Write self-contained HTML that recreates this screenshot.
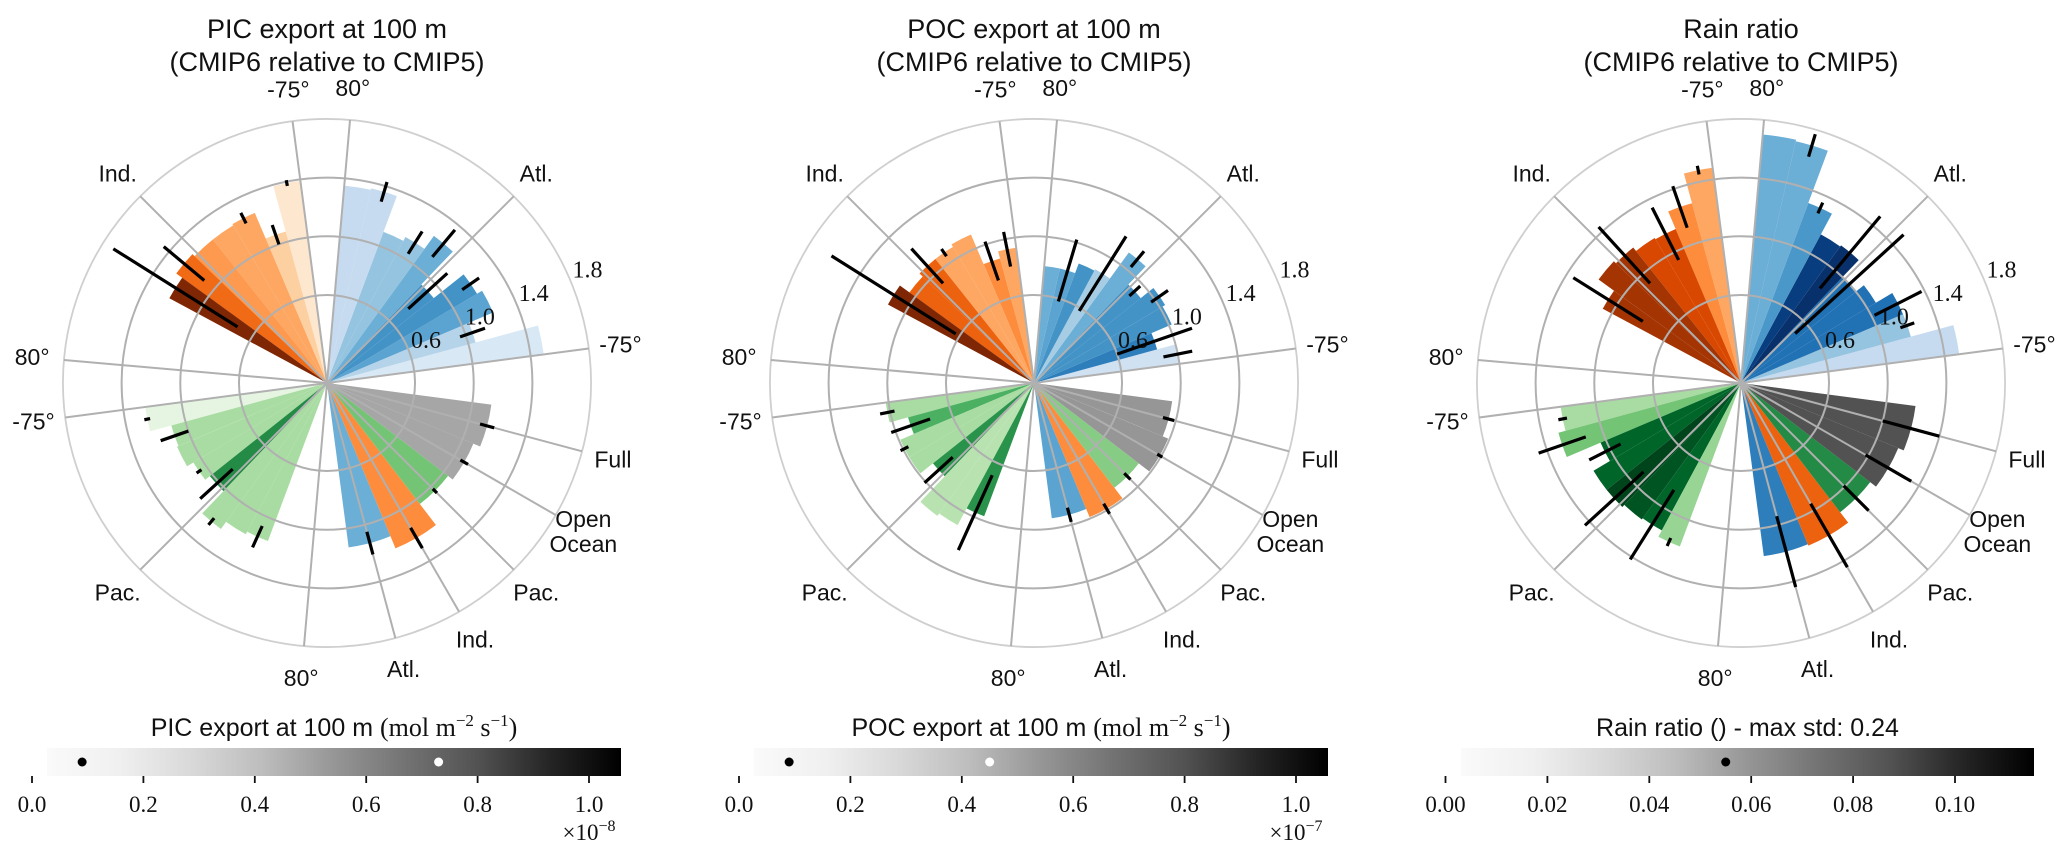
<!DOCTYPE html>
<html><head><meta charset="utf-8"><title>CMIP6 vs CMIP5 polar bar charts</title>
<style>
html,body{margin:0;padding:0;background:#fff;}
svg{display:block;}
.t{font-family:"Liberation Sans","DejaVu Sans",sans-serif;fill:#111;}
.s{font-family:"Liberation Serif","DejaVu Serif",serif;fill:#111;}
</style></head>
<body>
<svg id="fig" width="2067" height="852" viewBox="0 0 2067 852" xmlns="http://www.w3.org/2000/svg">
  <g>
    <text class="t" x="327" y="38" font-size="27" text-anchor="middle">PIC export at 100 m</text>
    <text class="t" x="327" y="71" font-size="27" text-anchor="middle">(CMIP6 relative to CMIP5)</text>
  </g>
  <g>
    <text class="t" x="1034" y="38" font-size="27" text-anchor="middle">POC export at 100 m</text>
    <text class="t" x="1034" y="71" font-size="27" text-anchor="middle">(CMIP6 relative to CMIP5)</text>
  </g>
  <g>
    <text class="t" x="1741" y="38" font-size="27" text-anchor="middle">Rain ratio</text>
    <text class="t" x="1741" y="71" font-size="27" text-anchor="middle">(CMIP6 relative to CMIP5)</text>
  </g>
  <g id="plots"></g>
  <g id="cbars"></g>
</svg>
<script>
// ---- data ----
const basinNames = ["Atl.", "Ind.", "Pac.", "Open Ocean", "Full"];
const radialTicks = [0.6, 1.0, 1.4, 1.8];
// PIC
const picAtl = [1.49,1.05,1.23,1.19,0.93,1.24,1.13,1.10,1.36,1.35];
const picAtlErr = [0,0.09,0,0.07,0.18,0.12,0.09,0,0.07,0];
const picAtlShade = [0.15,0.3,0.55,0.62,0.62,0.5,0.4,0.4,0.25,0.25];
const picInd = [1.39,1.07,1.26,1.25,1.25,1.27,1.22,null,null,null];
const picIndErr = [0.02,0.07,0.04,0,0,0.18,0.5,0,0,0];
const picIndShade = [0.12,0.25,0.4,0.4,0.45,0.62,1.0,0,0,0];
const picPac = [1.25,1.10,1.11,1.06,1.02,1.23,1.17,1.15,null,null];
const picPacErr = [0.02,0.1,0,0.02,0.15,0.03,0,0.08,0,0];
const picPacShade = [0.12,0.35,0.35,0.35,0.75,0.35,0.35,0.35,0,0];
const picBasin = [1.13,1.22,1.04,1.08,1.13];
const picBasinErr = [0.08,0.08,0.02,0.03,0.05];
const picBasinShade = [0.5,0.5,0.5,0.45,0.45];
// POC
const pocAtl = [1.00,0.87,1.02,1.04,0.93,1.10,0.88,0.87,0.80,0.80];
const pocAtlErr = [0.1,0.27,0,0.07,0.05,0.07,0.3,0,0.22,0];
const pocAtlShade = [0.2,0.7,0.62,0.62,0.62,0.5,0.35,0.62,0.55,0.5];
const pocInd = [0.93,0.88,1.10,1.08,1.08,1.05,1.13,null,null,null];
const pocIndErr = [0.12,0.14,0,0.03,0.16,0,0.5,0,0,0];
const pocIndShade = [0.4,0.5,0.4,0.4,0.65,0.65,1.0,0,0,0];
const pocPac = [1.02,0.89,0.99,0.99,0.88,1.12,1.10,0.97,null,null];
const pocPacErr = [0.05,0.14,0.03,0,0.13,0,0,0.28,0,0];
const pocPacShade = [0.35,0.6,0.35,0.35,0.72,0.3,0.3,0.72,0,0];
const pocBasin = [0.93,0.99,0.90,0.99,0.95];
const pocBasinErr = [0.05,0.04,0.03,0.02,0.04];
const pocBasinShade = [0.55,0.5,0.45,0.5,0.5];
// Rain ratio
const rrAtl = [1.50,1.20,1.20,1.07,1.00,1.16,1.15,1.31,1.69,1.70];
const rrAtlErr = [0,0.05,0.18,0,0.5,0.32,0,0.04,0.08,0];
const rrAtlShade = [0.25,0.4,0.75,0.75,0.75,1.0,0.95,0.6,0.5,0.5];
const rrInd = [1.48,1.27,1.14,1.15,1.18,1.20,1.07,null,null,null];
const rrIndErr = [0.03,0.15,0.2,0,0.26,0,0.28,0,0,0];
const rrIndShade = [0.4,0.5,0.75,0.75,0.88,0.88,0.88,0,0,0];
const rrPac = [1.24,1.29,1.04,1.17,1.17,1.15,1.14,1.19,null,null];
const rrPacErr = [0.03,0.17,0.12,0,0.27,0,0.28,0.03,0,0];
const rrPacShade = [0.35,0.5,0.9,0.9,1.0,0.95,0.9,0.4,0,0];
const rrBasin = [1.19,1.20,1.11,1.16,1.20];
const rrBasinErr = [0.25,0.25,0.12,0.18,0.2];
const rrBasinShade = [0.7,0.65,0.75,0.75,0.75];
// colorbars
const cb1Ticks = ["0.0","0.2","0.4","0.6","0.8","1.0"];
const cb1TickVals = [0,0.2,0.4,0.6,0.8,1.0];
const cb1Dots = [0.09,0.73];
const cb2Dots = [0.09,0.45];
const cb3Ticks = ["0.00","0.02","0.04","0.06","0.08","0.10"];
const cb3TickVals = [0,0.02,0.04,0.06,0.08,0.10];
const cb3Dots = [0.055];

const NS = "http://www.w3.org/2000/svg";
const CM = {
 blue:["#f7fbff","#deebf7","#c6dbef","#9ecae1","#6baed6","#4292c6","#2171b5","#08519c","#08306b"],
 orange:["#fff5eb","#fee6ce","#fdd0a2","#fdae6b","#fd8d3c","#f16913","#d94801","#a63603","#7f2704"],
 green:["#f7fcf5","#e5f5e0","#c7e9c0","#a1d99b","#74c476","#41ab5d","#238b45","#006d2c","#00441b"],
 grey:["#ffffff","#f0f0f0","#d9d9d9","#bdbdbd","#969696","#737373","#525252","#252525","#000000"]
};
function hx(c){return [1,3,5].map(i=>parseInt(c.substr(i,2),16));}
function cmap(name,t){
  const a=CM[name]; t=Math.max(0,Math.min(1,t)); const p=t*8; const i=Math.min(7,Math.floor(p)); const f=p-i;
  const c0=hx(a[i]),c1=hx(a[i+1]);
  return "rgb("+c0.map((v,k)=>Math.round(v+(c1[k]-v)*f)).join(",")+")";
}
function el(tag,attrs,parent){const e=document.createElementNS(NS,tag);for(const k in attrs)e.setAttribute(k,attrs[k]);parent.appendChild(e);return e;}

const R1 = 146.7; // px per unit
const CY = 383;
function rad(v){return v*R1;}
function ang(d){return d*Math.PI/180;}
function pt(cx,r,d){return [cx+r*Math.cos(ang(d)), CY-r*Math.sin(ang(d))];}
function latAngle(start,lat){return start+(lat+75)*0.5;}
const LAT_EDGES=[-75,-59.5,-44,-28.5,-13,2.5,18,33.5,49,64.5,80];

function wedge(g,cx,a0,a1,v,color,name){
  const r=rad(v); const p0=pt(cx,r,a0), p1=pt(cx,r,a1);
  const p=el("path",{d:`M${cx},${CY} L${p0[0].toFixed(2)},${p0[1].toFixed(2)} A${r},${r} 0 0 0 ${p1[0].toFixed(2)},${p1[1].toFixed(2)} Z`,fill:color},g);
  
  
}
function errbar(g,cx,a,v,e,name){
  if(!e) return;
  const p0=pt(cx,rad(v-e),a), p1=pt(cx,rad(v+e),a);
  const l=el("line",{x1:p0[0],y1:p0[1],x2:p1[0],y2:p1[1],stroke:"#000","stroke-width":3.2},g);
  
  
}

function drawPlot(cx,key,sets,basin,basinErr,basinShade){
  const root=document.getElementById("plots");
  const g=el("g",{},root);
  
  
  const bars=el("g",{},g);
  
  
  const errs=[];
  sets.forEach(s=>{
    for(let i=0;i<10;i++){
      if(s.vals[i]==null) continue;
      const a0=latAngle(s.start,LAT_EDGES[i]), a1=latAngle(s.start,LAT_EDGES[i+1]);
      wedge(bars,cx,a0,a1,s.vals[i],cmap(s.cm,s.shade[i]),'bar-'+s.tag+'-lat'+i);
      errs.push([(a0+a1)/2,s.vals[i],s.err[i],'errorbar-'+s.tag+'-lat'+i]);
    }
  });
  const bcm=["blue","orange","green","grey","grey"];
  for(let i=0;i<5;i++){
    const c=-75+15*i;
    wedge(bars,cx,c-7.5,c+7.5,basin[i],cmap(bcm[i],basinShade[i]),'bar-basin-'+i);
    errs.push([c,basin[i],basinErr[i],'errorbar-basin-'+i]);
  }
  const grid=el("g",{fill:"none"},g);
  
  
  radialTicks.forEach((t,i)=>{
    const c=el("circle",{cx:cx,cy:CY,r:rad(t),stroke:i==3?"#cfcfcf":"#b0b0b0","stroke-width":i==3?1.8:2},grid);
    
    
  });
  const spokes=[7.5,45,85,97.5,135,175,187.5,225,265,-75,-60,-45,-30,-15];
  spokes.forEach(a=>{
    const p=pt(cx,rad(1.8),a);
    const l=el("line",{x1:cx,y1:CY,x2:p[0],y2:p[1],stroke:"#b0b0b0","stroke-width":2},grid);
    
    
  });
  radialTicks.forEach(t=>{
    const p=pt(cx,rad(t)+20,23.5);
    const tx=el("text",{x:p[0],y:p[1]+8,"font-size":24,"text-anchor":"middle",class:"s"},g);
    tx.textContent=t.toFixed(1);
    
    
  });
  const eg=el("g",{},g);
  
  
  errs.forEach(e=>errbar(eg,cx,e[0],e[1],e[2],e[3]));
  const labels=[[7.5,"-75°"],[45,"Atl."],[85,"80°"],[97.5,"-75°"],[135,"Ind."],[175,"80°"],[187.5,"-75°"],[225,"Pac."],[265,"80°"],
    [-75,basinNames[0]],[-60,basinNames[1]],[-45,basinNames[2]],[-30,basinNames[3]],[-15,basinNames[4]]];
  labels.forEach(L=>{
    const p=pt(cx,296,L[0]);
    const tx=el("text",{x:p[0],y:p[1]+8,"font-size":23,"text-anchor":"middle",class:"t"},g);
    if(L[1]=="Open Ocean"){
      el("tspan",{x:p[0],dy:-12},tx).textContent="Open";
      el("tspan",{x:p[0],dy:25},tx).textContent="Ocean";
    } else tx.textContent=L[1];
    
    
  });
}

drawPlot(327,"pic",[
 {start:7.5,vals:picAtl,err:picAtlErr,shade:picAtlShade,cm:"blue",tag:"atl"},
 {start:97.5,vals:picInd,err:picIndErr,shade:picIndShade,cm:"orange",tag:"ind"},
 {start:187.5,vals:picPac,err:picPacErr,shade:picPacShade,cm:"green",tag:"pac"}],picBasin,picBasinErr,picBasinShade);
drawPlot(1034,"poc",[
 {start:7.5,vals:pocAtl,err:pocAtlErr,shade:pocAtlShade,cm:"blue",tag:"atl"},
 {start:97.5,vals:pocInd,err:pocIndErr,shade:pocIndShade,cm:"orange",tag:"ind"},
 {start:187.5,vals:pocPac,err:pocPacErr,shade:pocPacShade,cm:"green",tag:"pac"}],pocBasin,pocBasinErr,pocBasinShade);
drawPlot(1741,"rain-ratio",[
 {start:7.5,vals:rrAtl,err:rrAtlErr,shade:rrAtlShade,cm:"blue",tag:"atl"},
 {start:97.5,vals:rrInd,err:rrIndErr,shade:rrIndShade,cm:"orange",tag:"ind"},
 {start:187.5,vals:rrPac,err:rrPacErr,shade:rrPacShade,cm:"green",tag:"pac"}],rrBasin,rrBasinErr,rrBasinShade);

const svg=document.getElementById("fig");
const defs=el("defs",{},svg);
const lg=el("linearGradient",{id:"gr",x1:0,x2:1,y1:0,y2:0},defs);
CM.grey.forEach((c,i)=>el("stop",{offset:(i/8),"stop-color":i==0?"#fafafa":c},lg));

function colorbar(key,x0,x1,t0,tScale,ticks,tickVals,dots,dotColors,title,exp){
  const g=el("g",{},document.getElementById("cbars"));
  
  
  const tx=v=>t0+v*tScale;
  const r=el("rect",{x:x0,y:748,width:x1-x0,height:28,fill:"url(#gr)"},g);
  
  
  ticks.forEach((t,i)=>{
    const x=tx(tickVals[i]);
    el("line",{x1:x,x2:x,y1:776,y2:783,stroke:"#111","stroke-width":1.8},g);
    const l=el("text",{x:x,y:812,"font-size":23,"text-anchor":"middle",class:"s"},g);
    l.textContent=t;
    
    
  });
  dots.forEach((d,i)=>{
    const c=el("circle",{cx:tx(d),cy:762,r:4.5,fill:dotColors[i]},g);
    
    
  });
  const tt=el("text",{x:(x0+x1)/2,y:736,"font-size":25,"text-anchor":"middle",class:"t"},g);
  tt.innerHTML=title;
  
  
  if(exp){
    const e=el("text",{x:x1-32,y:840,"font-size":23,"text-anchor":"middle",class:"s"},g);
    e.innerHTML="×10<tspan dy='-9' font-size='16'>"+exp+"</tspan>";
    
    
  }
}
const unitT=" <tspan font-family='Liberation Serif, serif' font-size='26'>(mol m<tspan dy='-10' font-size='17'>−2</tspan><tspan dy='10'> s</tspan><tspan dy='-10' font-size='17'>−1</tspan><tspan dy='10'>)</tspan></tspan>";
colorbar("pic",47,621,32,557,cb1Ticks,cb1TickVals,cb1Dots,["#000","#fff"],"PIC export at 100 m"+unitT,"−8");
colorbar("poc",754,1328,739,557,cb1Ticks,cb1TickVals,cb2Dots,["#000","#fff"],"POC export at 100 m"+unitT,"−7");
colorbar("rain-ratio",1461,2034,1445.5,5095,cb3Ticks,cb3TickVals,cb3Dots,["#000"],"Rain ratio () - max std: 0.24",null);
</script>
</body></html>
